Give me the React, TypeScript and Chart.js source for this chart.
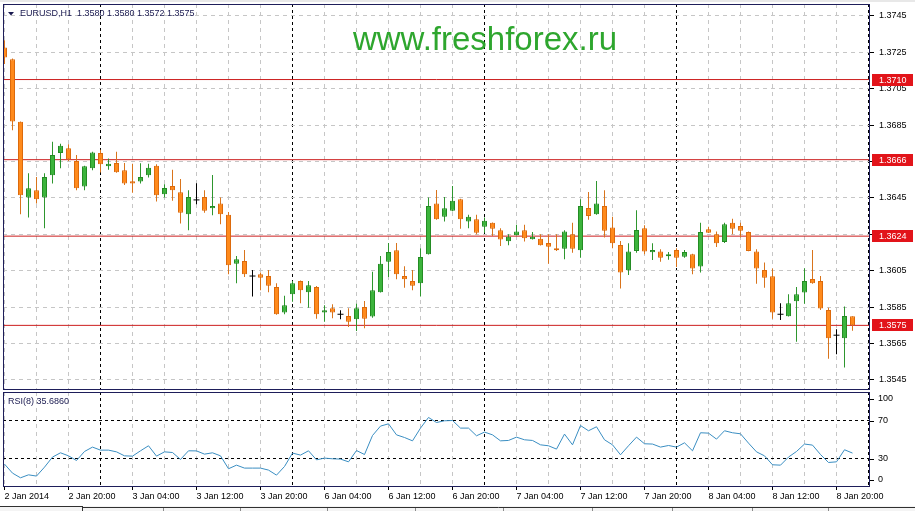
import React, { useEffect, useRef } from 'react';
import { Chart, registerables } from 'chart.js';

Chart.register(...registerables);

const FONT = '"Liberation Sans", Arial, sans-serif';
Chart.defaults.font.family = FONT;

// ---------------- data ----------------
const headerText = 'EURUSD,H1  1.3580 1.3580 1.3572 1.3575';
const rsiText = 'RSI(8) 35.6860';
const watermark = 'www.freshforex.ru';

const timeLabels = [
  '2 Jan 2014', '2 Jan 20:00', '3 Jan 04:00', '3 Jan 12:00', '3 Jan 20:00',
  '6 Jan 04:00', '6 Jan 12:00', '6 Jan 20:00', '7 Jan 04:00', '7 Jan 12:00',
  '7 Jan 20:00', '8 Jan 04:00', '8 Jan 12:00', '8 Jan 20:00',
];
const labelEvery = 8; // bars between time labels
const gridEvery = 4; // bars between vertical grid lines
const daySeparators = [12, 36, 60, 84, 108];

const openP = [
  1.37276, 1.37212, 1.36868, 1.36452, 1.36492, 1.36452, 1.36575, 1.36696, 1.36723, 1.36653,
  1.36512, 1.36613, 1.36696, 1.36624, 1.36642, 1.36602, 1.36542, 1.36540, 1.36575, 1.36626,
  1.36470, 1.36516, 1.36481, 1.36360, 1.36439, 1.36455, 1.36393, 1.36419, 1.36357, 1.36089,
  1.36104, 1.36021, 1.36031, 1.36021, 1.35961, 1.35820, 1.35921, 1.35994, 1.35932, 1.35961,
  1.35820, 1.35844, 1.35811, 1.35802, 1.35784, 1.35851, 1.35798, 1.35932, 1.36100, 1.36163,
  1.36021, 1.35994, 1.35981, 1.36141, 1.36419, 1.36346, 1.36379, 1.36443, 1.36320, 1.36333,
  1.36291, 1.36313, 1.36273, 1.36212, 1.36245, 1.36273, 1.36223, 1.36226, 1.36203, 1.36174,
  1.36171, 1.36251, 1.36163, 1.36395, 1.36360, 1.36406, 1.36287, 1.36192, 1.36053, 1.36159,
  1.36284, 1.36152, 1.36155, 1.36130, 1.36164, 1.36127, 1.36141, 1.36073, 1.36278, 1.36251,
  1.36208, 1.36313, 1.36296, 1.36263, 1.36155, 1.36054, 1.36020, 1.35811, 1.35800, 1.35882,
  1.35930, 1.36005, 1.35994, 1.35835, 1.35696, 1.35679, 1.35800,
];
const highP = [
  1.37316, 1.37215, 1.36870, 1.36586, 1.36565, 1.36586, 1.36758, 1.36748, 1.36745, 1.36685,
  1.36627, 1.36704, 1.36714, 1.36666, 1.36703, 1.36642, 1.36638, 1.36641, 1.36638, 1.36635,
  1.36525, 1.36604, 1.36554, 1.36492, 1.36531, 1.36492, 1.36576, 1.36452, 1.36373, 1.36131,
  1.36164, 1.36054, 1.36040, 1.36054, 1.35981, 1.35912, 1.35994, 1.35996, 1.35994, 1.35966,
  1.35860, 1.35866, 1.35833, 1.35844, 1.35869, 1.35884, 1.36045, 1.36131, 1.36203, 1.36203,
  1.36075, 1.36054, 1.36174, 1.36452, 1.36494, 1.36455, 1.36516, 1.36445, 1.36357, 1.36357,
  1.36342, 1.36315, 1.36284, 1.36251, 1.36302, 1.36302, 1.36263, 1.36251, 1.36251, 1.36251,
  1.36273, 1.36314, 1.36443, 1.36483, 1.36543, 1.36492, 1.36346, 1.36214, 1.36201, 1.36382,
  1.36300, 1.36201, 1.36168, 1.36153, 1.36174, 1.36164, 1.36143, 1.36313, 1.36291, 1.36265,
  1.36314, 1.36336, 1.36314, 1.36265, 1.36168, 1.36095, 1.36062, 1.35871, 1.35921, 1.35961,
  1.36064, 1.36164, 1.36021, 1.35847, 1.35729, 1.35853, 1.35800,
];
const lowP = [
  1.37185, 1.36822, 1.36360, 1.36342, 1.36419, 1.36284, 1.36529, 1.36613, 1.36653, 1.36492,
  1.36492, 1.36602, 1.36589, 1.36604, 1.36588, 1.36521, 1.36479, 1.36529, 1.36562, 1.36430,
  1.36452, 1.36434, 1.36309, 1.36273, 1.36415, 1.36369, 1.36355, 1.36305, 1.36031, 1.35981,
  1.36016, 1.35908, 1.35943, 1.35932, 1.35808, 1.35811, 1.35880, 1.35871, 1.35847, 1.35787,
  1.35770, 1.35789, 1.35784, 1.35741, 1.35719, 1.35734, 1.35792, 1.35930, 1.36016, 1.36003,
  1.35957, 1.35943, 1.35908, 1.36139, 1.36330, 1.36320, 1.36377, 1.36281, 1.36284, 1.36251,
  1.36258, 1.36241, 1.36186, 1.36190, 1.36243, 1.36210, 1.36221, 1.36188, 1.36089, 1.36159,
  1.36113, 1.36149, 1.36122, 1.36330, 1.36358, 1.36232, 1.36174, 1.35952, 1.36027, 1.36149,
  1.36141, 1.36109, 1.36100, 1.36111, 1.36071, 1.36122, 1.36031, 1.36040, 1.36257, 1.36181,
  1.36203, 1.36251, 1.36232, 1.36157, 1.35979, 1.35957, 1.35787, 1.35780, 1.35798, 1.35660,
  1.35869, 1.35979, 1.35835, 1.35567, 1.35591, 1.35518, 1.35720,
];
const closeP = [
  1.37221, 1.36869, 1.36465, 1.36503, 1.36443, 1.36565, 1.36685, 1.36736, 1.36663, 1.36503,
  1.36624, 1.36699, 1.36635, 1.36637, 1.36591, 1.36529, 1.36529, 1.36565, 1.36615, 1.36465,
  1.36505, 1.36492, 1.36369, 1.36455, 1.36439, 1.36379, 1.36406, 1.36360, 1.36080, 1.36113,
  1.36031, 1.36021, 1.36012, 1.35968, 1.35811, 1.35860, 1.35981, 1.35943, 1.35970, 1.35811,
  1.35833, 1.35820, 1.35811, 1.35770, 1.35844, 1.35787, 1.35943, 1.36089, 1.36153, 1.36031,
  1.36003, 1.35968, 1.36126, 1.36406, 1.36333, 1.36393, 1.36434, 1.36333, 1.36346, 1.36258,
  1.36324, 1.36281, 1.36221, 1.36236, 1.36265, 1.36229, 1.36236, 1.36190, 1.36182, 1.36163,
  1.36265, 1.36171, 1.36406, 1.36351, 1.36419, 1.36269, 1.36201, 1.36040, 1.36155, 1.36274,
  1.36155, 1.36164, 1.36122, 1.36141, 1.36122, 1.36153, 1.36062, 1.36263, 1.36259, 1.36201,
  1.36305, 1.36281, 1.36269, 1.36159, 1.36062, 1.36012, 1.35820, 1.35811, 1.35871, 1.35921,
  1.35994, 1.35981, 1.35842, 1.35679, 1.35696, 1.35802, 1.35750,
];
const rsiValues = [
  24.1, 14.6, 9.7, 12.8, 11.5, 20.9, 31.5, 36.0, 32.8, 27.9,
  37.4, 42.0, 38.8, 38.8, 37.0, 32.8, 32.5, 38.1, 43.4, 32.5,
  37.0, 36.3, 29.0, 38.1, 38.0, 34.6, 36.0, 32.8, 19.2, 23.0,
  19.9, 19.9, 19.9, 17.8, 12.5, 21.6, 35.7, 33.6, 38.1, 28.6,
  30.4, 29.7, 29.4, 26.5, 38.4, 34.2, 54.2, 64.1, 66.5, 54.9,
  52.1, 48.6, 62.0, 73.2, 67.9, 69.7, 70.0, 62.0, 62.0, 53.9,
  57.8, 54.9, 48.6, 49.0, 52.5, 49.7, 49.0, 44.4, 43.4, 39.9,
  55.7, 44.4, 64.7, 59.2, 63.4, 49.7, 44.4, 33.9, 43.4, 52.5,
  45.5, 45.2, 42.0, 43.7, 42.0, 46.5, 38.1, 57.1, 56.7, 50.4,
  59.2, 57.1, 56.0, 46.2, 37.0, 32.8, 23.4, 23.0, 31.5, 37.4,
  45.2, 44.1, 34.2, 25.8, 26.5, 39.2, 35.7,
];
const priceTicks = [1.3545, 1.3565, 1.3585, 1.3605, 1.3625, 1.3645, 1.3665, 1.3685, 1.3705, 1.3725, 1.3745];
const levels = [1.371, 1.3666, 1.3624, 1.3575];
const rsiTicks = [0, 30, 70, 100];
const rsiLevels = [30, 70];

// ---------------- view constants ----------------
const X_MIN = -0.1875;
const X_MAX = 108.1875;
const Y_MIN = 1.35395;
const Y_MAX = 1.37515;

const FRAME = '#1e1e5a';
const NAVY = '#1a1a50';
const GRID = '#c6c6c6';
const LEVEL = '#cc1e1e';
const LABEL_BG = '#e2141a';
const BULL_FILL = '#3cb43c';
const BULL_EDGE = '#248c24';
const BEAR_FILL = '#ff8a1c';
const BEAR_EDGE = '#dc6a0c';
const BULL_WICK = '#2e962e';
const BEAR_WICK = '#d9741c';
const RSI_COLOR = '#3a8ec2';

const barIdx = openP.map((_, i) => i);
const isDoji = (i: number) => openP[i] === closeP[i];
const isBull = (i: number) => closeP[i] > openP[i];
const bodyIdx = barIdx.filter((i) => !isDoji(i));
const dojiIdx = barIdx.filter((i) => isDoji(i));
const gridTicks: number[] = [];
for (let v = 0; v <= X_MAX; v += gridEvery) gridTicks.push(v);
const isDaySep = (v: any) => typeof v === 'number' && daySeparators.includes(v);

const noPad = (s: any) => {
  s.paddingTop = 0;
  s.paddingBottom = 0;
  s.paddingLeft = 0;
  s.paddingRight = 0;
};

const mainDecor = {
  id: 'mainDecor',
  beforeDraw(chart: any) {
    const { ctx } = chart;
    ctx.save();
    ctx.fillStyle = '#e8e8e8';
    ctx.fillRect(0, 0, 915, 2);
    ctx.restore();
  },
  afterDraw(chart: any) {
    const { ctx, chartArea: a, scales } = chart;
    const ys = scales.y;
    ctx.save();
    ctx.strokeStyle = FRAME;
    ctx.lineWidth = 1;
    ctx.strokeRect(a.left + 0.5, a.top + 0.5, a.right - a.left - 1, a.bottom - a.top - 1);

    ctx.font = `9px ${FONT}`;
    ctx.textBaseline = 'middle';
    ctx.textAlign = 'left';
    levels.forEach((l) => {
      const py = Math.round(ys.getPixelForValue(l));
      ctx.fillStyle = LABEL_BG;
      ctx.fillRect(a.right + 2, py - 6, 41, 12);
      ctx.fillStyle = '#ffffff';
      ctx.fillText(l.toFixed(4), a.right + 9, py + 0.5);
    });

    ctx.fillStyle = NAVY;
    ctx.beginPath();
    ctx.moveTo(8, 12);
    ctx.lineTo(14, 12);
    ctx.lineTo(11, 15.5);
    ctx.closePath();
    ctx.fill();
    ctx.fillText(headerText, 20, 14);

    ctx.font = `33px ${FONT}`;
    ctx.fillStyle = '#2ea62e';
    ctx.textAlign = 'center';
    ctx.textBaseline = 'alphabetic';
    ctx.fillText(watermark, 485, 50);
    ctx.restore();
  },
};

const rsiDecor = {
  id: 'rsiDecor',
  afterDraw(chart: any) {
    const { ctx, chartArea: a, scales } = chart;
    const ys = scales.y;
    ctx.save();
    ctx.strokeStyle = FRAME;
    ctx.lineWidth = 1;
    ctx.strokeRect(a.left + 0.5, a.top + 0.5, a.right - a.left - 1, a.bottom - a.top - 1);

    ctx.font = `9px ${FONT}`;
    ctx.textBaseline = 'middle';
    ctx.textAlign = 'left';
    ctx.fillStyle = '#000';
    ctx.strokeStyle = '#000';
    rsiTicks.forEach((v) => {
      let py = ys.getPixelForValue(v);
      py = Math.min(Math.max(py, a.top + 7), a.bottom - 7);
      ctx.fillText(String(v), a.right + 8, py);
      const ry = Math.round(py) + 0.5;
      ctx.beginPath();
      ctx.moveTo(a.right, ry);
      ctx.lineTo(a.right + 4, ry);
      ctx.stroke();
    });

    ctx.fillStyle = NAVY;
    ctx.fillText(rsiText, 8, a.top + 10);

    // terminal tab strip at the bottom
    const ty = 116;
    ctx.fillStyle = '#f4f4f4';
    ctx.fillRect(0, ty, 915, 121 - ty);
    ctx.strokeStyle = '#303030';
    ctx.beginPath();
    ctx.moveTo(0, ty + 0.5);
    ctx.lineTo(82, ty + 0.5);
    ctx.moveTo(82.5, ty);
    ctx.lineTo(82.5, 121);
    ctx.moveTo(82, ty + 1.5);
    ctx.lineTo(915, ty + 1.5);
    ctx.stroke();
    ctx.strokeStyle = '#8a8a8a';
    [163, 240, 327, 415, 503, 592, 672, 752, 828].forEach((sx) => {
      ctx.beginPath();
      ctx.moveTo(sx + 0.5, ty + 2);
      ctx.lineTo(sx + 0.5, 121);
      ctx.stroke();
    });
    ctx.restore();
  },
};

export default function App() {
  const mainRef = useRef<HTMLCanvasElement>(null);
  const rsiRef = useRef<HTMLCanvasElement>(null);

  useEffect(() => {
    document.body.style.margin = '0';
    const tickFont = { family: FONT, size: 9 };

    const main = new Chart(mainRef.current as HTMLCanvasElement, {
      type: 'bar',
      data: {
        datasets: [
          {
            type: 'scatter',
            label: 'doji',
            data: dojiIdx.map((i) => ({ x: i, y: closeP[i] })),
            pointStyle: 'line',
            pointRadius: 3,
            borderColor: '#000',
            pointBorderColor: '#000',
            pointBorderWidth: 1,
            order: 0,
          } as any,
          {
            type: 'bar',
            label: 'body',
            data: bodyIdx.map((i) => ({ x: i, y: [openP[i], closeP[i]] })),
            backgroundColor: bodyIdx.map((i) => (isBull(i) ? BULL_FILL : BEAR_FILL)),
            borderColor: bodyIdx.map((i) => (isBull(i) ? BULL_EDGE : BEAR_EDGE)),
            borderWidth: 1,
            borderSkipped: false,
            barThickness: 5,
            grouped: false,
            inflateAmount: 0,
            order: 1,
          } as any,
          {
            type: 'bar',
            label: 'wick',
            data: barIdx.map((i) => ({ x: i, y: [lowP[i], highP[i]] })),
            backgroundColor: barIdx.map((i) => (isDoji(i) ? '#000' : isBull(i) ? BULL_WICK : BEAR_WICK)),
            borderWidth: 0,
            barThickness: 1,
            grouped: false,
            inflateAmount: 0,
            order: 2,
          } as any,
          ...levels.map(
            (l) =>
              ({
                type: 'line',
                label: 'level ' + l,
                data: [
                  { x: X_MIN, y: l },
                  { x: X_MAX, y: l },
                ],
                borderColor: LEVEL,
                borderWidth: 1,
                pointRadius: 0,
                order: 3,
              } as any)
          ),
        ],
      },
      options: {
        responsive: false,
        animation: false,
        events: [],
        layout: { autoPadding: false, padding: { left: 3, top: 4, right: 0, bottom: 2 } },
        plugins: { legend: { display: false }, tooltip: { enabled: false } },
        scales: {
          x: {
            type: 'linear',
            min: X_MIN,
            max: X_MAX,
            offset: false,
            afterBuildTicks: (s: any) => {
              s.ticks = gridTicks.map((v) => ({ value: v }));
            },
            afterFit: (s: any) => {
              s.height = 0;
              noPad(s);
            },
            ticks: { display: false },
            grid: {
              offset: false,
              drawTicks: false,
              color: (c: any) => (isDaySep(c.tick && c.tick.value) ? '#000' : GRID),
            },
            border: {
              display: false,
              dash: (c: any) => (isDaySep(c.tick && c.tick.value) ? [3, 3] : [4, 4]),
            },
          },
          y: {
            type: 'linear',
            position: 'right',
            min: Y_MIN,
            max: Y_MAX,
            afterBuildTicks: (s: any) => {
              s.ticks = priceTicks.map((v) => ({ value: v }));
            },
            afterFit: (s: any) => {
              s.width = 45;
              noPad(s);
            },
            ticks: {
              callback: (v: any) => Number(v).toFixed(4),
              font: tickFont,
              color: '#000',
              padding: 5,
              crossAlign: 'near',
            },
            grid: { color: GRID, tickColor: '#000', tickLength: 4, tickBorderDash: [] },
            border: { display: false, dash: [4, 4] },
          },
        },
      } as any,
      plugins: [mainDecor],
    });

    const rsi = new Chart(rsiRef.current as HTMLCanvasElement, {
      type: 'line',
      data: {
        datasets: [
          {
            label: 'RSI(8)',
            data: rsiValues.map((v, i) => ({ x: i, y: v })),
            borderColor: RSI_COLOR,
            borderWidth: 1,
            pointRadius: 0,
            tension: 0,
            fill: false,
          },
        ],
      },
      options: {
        responsive: false,
        animation: false,
        events: [],
        layout: { autoPadding: false, padding: { left: 3, top: 2, right: 0, bottom: 0 } },
        plugins: { legend: { display: false }, tooltip: { enabled: false } },
        scales: {
          x: {
            type: 'linear',
            min: X_MIN,
            max: X_MAX,
            offset: false,
            afterBuildTicks: (s: any) => {
              s.ticks = gridTicks.map((v) => ({ value: v }));
            },
            afterFit: (s: any) => {
              s.height = 24;
              noPad(s);
            },
            ticks: {
              autoSkip: false,
              maxRotation: 0,
              minRotation: 0,
              align: 'start',
              padding: 1,
              font: tickFont,
              color: '#000',
              callback: (v: any) => (v % labelEvery === 0 ? timeLabels[v / labelEvery] || '' : ''),
            },
            grid: {
              offset: false,
              color: (c: any) => (isDaySep(c.tick && c.tick.value) ? '#000' : GRID),
              tickColor: (c: any) => (c.tick && c.tick.value % labelEvery === 0 ? '#000' : 'rgba(0,0,0,0)'),
              tickLength: 3,
              tickBorderDash: [],
            },
            border: {
              display: false,
              dash: (c: any) => (isDaySep(c.tick && c.tick.value) ? [3, 3] : [4, 4]),
            },
          },
          y: {
            type: 'linear',
            position: 'right',
            min: 0,
            max: 100,
            afterBuildTicks: (s: any) => {
              s.ticks = rsiTicks.map((v) => ({ value: v }));
            },
            afterFit: (s: any) => {
              s.width = 45;
              noPad(s);
            },
            ticks: { display: false },
            grid: {
              drawTicks: false,
              color: (c: any) => (c.tick && rsiLevels.includes(c.tick.value) ? '#000' : 'rgba(0,0,0,0)'),
            },
            border: { display: false, dash: [3, 3] },
          },
        },
      } as any,
      plugins: [rsiDecor],
    });

    return () => {
      main.destroy();
      rsi.destroy();
    };
  }, []);

  return (
    <div style={{ position: 'relative', width: 915, height: 511, background: '#fff', overflow: 'hidden' }}>
      <canvas
        ref={mainRef}
        width={915}
        height={392}
        style={{ position: 'absolute', left: 0, top: 0, width: 915, height: 392 }}
      />
      <canvas
        ref={rsiRef}
        width={915}
        height={121}
        style={{ position: 'absolute', left: 0, top: 390, width: 915, height: 121 }}
      />
    </div>
  );
}
